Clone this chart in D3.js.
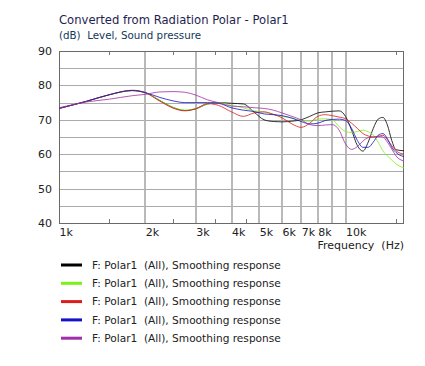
<!DOCTYPE html>
<html>
<head>
<meta charset="utf-8">
<script src="https://cdn.jsdelivr.net/npm/d3@7"></script>
<style>
  body { margin: 0; background: #fff; }
  svg text { font-family: "DejaVu Sans", Verdana, sans-serif; }
</style>
</head>
<body>
<div id="chart"></div>
<script>
// frequencies (Hz) and levels (dB)
var freqs = [1000, 1250, 1500, 1800, 2000, 2250, 2500, 2750, 3000, 3300, 3600, 4000, 4400, 4800, 5200, 5600, 6000, 6500, 7000, 7500, 8000, 8500, 9000, 9500, 10000, 10500, 11000, 11500, 12000, 12500, 13000, 13500, 14000, 14500, 15000, 16000];

var blackVals  = [73.3, 75.4, 77.3, 78.5, 77.9, 75.6, 73.6, 72.7, 73.2, 74.6, 75.0, 74.8, 74.6, 72.2, 70.0, 69.5, 69.4, 69.6, 70.0, 71.0, 72.0, 72.3, 72.5, 72.6, 71.0, 67.0, 62.5, 60.9, 63.5, 67.5, 70.2, 70.7, 68.5, 64.0, 61.3, 61.0];
var greenVals  = [73.3, 75.4, 77.3, 78.5, 77.9, 75.6, 73.6, 72.8, 73.3, 74.6, 75.0, 74.2, 73.5, 72.6, 72.3, 71.5, 71.0, 70.5, 69.8, 69.6, 70.2, 70.3, 70.0, 68.0, 66.6, 66.3, 66.6, 67.0, 66.5, 65.6, 63.5, 61.0, 59.5, 58.3, 57.2, 56.0];
var redVals    = [73.3, 75.4, 77.3, 78.6, 77.9, 75.4, 73.4, 72.6, 73.2, 74.7, 74.2, 72.3, 71.0, 72.0, 72.3, 71.6, 70.6, 68.8, 67.8, 69.0, 71.0, 71.5, 71.2, 70.8, 70.3, 69.0, 67.5, 66.0, 65.3, 65.0, 65.2, 65.5, 64.2, 62.5, 61.0, 60.0];
var blueVals   = [73.3, 75.4, 77.3, 78.5, 77.9, 76.5, 75.5, 75.0, 75.0, 75.0, 74.8, 73.5, 72.8, 72.4, 71.7, 71.5, 71.2, 70.5, 69.5, 68.8, 69.0, 69.8, 70.1, 70.2, 69.8, 67.5, 64.0, 62.0, 62.0, 63.5, 65.5, 66.0, 64.5, 62.0, 60.5, 59.3];
var purpleVals = [73.5, 75.2, 76.0, 77.0, 77.4, 78.1, 78.2, 78.0, 77.2, 75.8, 75.0, 74.0, 73.8, 73.5, 73.3, 72.8, 72.0, 71.0, 70.0, 68.6, 68.3, 68.5, 68.6, 67.0, 63.0, 61.4, 62.2, 63.8, 64.8, 65.0, 65.2, 65.0, 63.5, 61.5, 59.5, 58.0];

var seriesLabels = ["F: Polar1  (All), Smoothing response", "F: Polar1  (All), Smoothing response", "F: Polar1  (All), Smoothing response", "F: Polar1  (All), Smoothing response", "F: Polar1  (All), Smoothing response"];
var seriesColors = ["#000000", "#7cf214", "#dd1c1c", "#1212cc", "#a030a8"];

var yTicks = [40, 50, 60, 70, 80, 90];
var yGridVals = [45, 50, 55, 60, 65, 70, 75, 80, 85];
var xLabelVals = [1000, 2000, 3000, 4000, 5000, 6000, 7000, 8000, 10000];
var xLabels = ["1k", "2k", "3k", "4k", "5k", "6k", "7k", "8k", "10k"];
var xGridVals = [2000, 3000, 4000, 5000, 6000, 7000, 8000, 9000, 10000];
var xMinorVals = [1500, 2500, 3500, 4500, 15000];

var W = 425, H = 366;
var margin = {top: 51, right: 21, bottom: 143, left: 59};
var width = W - margin.left - margin.right,
    height = H - margin.top - margin.bottom;

var svg = d3.select("#chart").append("svg")
    .attr("width", W)
    .attr("height", H);

svg.append("text")
    .attr("x", 59).attr("y", 24)
    .attr("fill", "#1e1e50")
    .style("font-size", "11.6px")
    .text("Converted from Radiation Polar - Polar1");

svg.append("text")
    .attr("x", 59).attr("y", 38.5)
    .attr("fill", "#12385a")
    .style("font-size", "10.3px")
    .attr("xml:space", "preserve")
    .text("(dB)  Level, Sound pressure");

var g = svg.append("g")
    .attr("transform", "translate(" + margin.left + "," + margin.top + ")");

var x = d3.scaleLog().domain([1000, 16000]).range([0, width]);
var y = d3.scaleLinear().domain([40, 90]).range([height, 0]);

// grid
g.append("g")
  .selectAll("line")
  .data(yGridVals)
  .enter().append("line")
  .attr("x1", 0).attr("x2", width)
  .attr("y1", function(d) { return Math.round(y(d)) + 0.5; })
  .attr("y2", function(d) { return Math.round(y(d)) + 0.5; })
  .attr("stroke", "#ababab")
  .attr("stroke-width", 1);

g.append("g")
  .selectAll("line")
  .data(xGridVals)
  .enter().append("line")
  .attr("x1", function(d) { return Math.round(x(d)); })
  .attr("x2", function(d) { return Math.round(x(d)); })
  .attr("y1", 0).attr("y2", height)
  .attr("stroke", "#b2b2b2")
  .attr("stroke-width", 1.8);

// minor ticks top and bottom
g.append("g")
  .selectAll("line")
  .data(xMinorVals)
  .enter().append("line")
  .attr("x1", function(d) { return Math.round(x(d)) + 0.5; })
  .attr("x2", function(d) { return Math.round(x(d)) + 0.5; })
  .attr("y1", 0).attr("y2", 4)
  .attr("stroke", "#777");
g.append("g")
  .selectAll("line")
  .data(xMinorVals)
  .enter().append("line")
  .attr("x1", function(d) { return Math.round(x(d)) + 0.5; })
  .attr("x2", function(d) { return Math.round(x(d)) + 0.5; })
  .attr("y1", height - 4).attr("y2", height)
  .attr("stroke", "#777");

// frame
g.append("rect")
  .attr("x", 0.5).attr("y", 0.5)
  .attr("width", width - 1).attr("height", height)
  .attr("fill", "none")
  .attr("stroke", "#6a6a6a");

// curves
var allVals = [blackVals, greenVals, redVals, blueVals, purpleVals];
var line = d3.line()
  .x(function(d) { return x(d.f); })
  .y(function(d) { return y(d.v); })
  .curve(d3.curveMonotoneX);

allVals.forEach(function(vals, i) {
  var pts = freqs.map(function(f, j) { return {f: f, v: vals[j]}; });
  g.append("path")
    .datum(pts)
    .attr("d", line)
    .attr("fill", "none")
    .attr("stroke", seriesColors[i])
    .attr("stroke-opacity", 0.8)
    .attr("stroke-width", 1);
});

// axes
var yAxis = g.append("g")
  .call(d3.axisLeft(y).tickValues(yTicks).tickSize(0).tickPadding(7));
yAxis.select(".domain").remove();
yAxis.selectAll("text").style("font-size", "11px").attr("fill", "#222").attr("font-family", null);

var xAxis = g.append("g")
  .attr("transform", "translate(0," + height + ")")
  .call(d3.axisBottom(x).tickValues(xLabelVals).tickFormat(function(d, i) { return xLabels[i]; }).tickSize(0).tickPadding(5));
xAxis.select(".domain").remove();
xAxis.selectAll("text")
  .style("font-size", "11px")
  .attr("fill", "#222")
  .attr("font-family", null)
  .attr("text-anchor", "start");

svg.append("text")
  .attr("x", 404).attr("y", 248.5)
  .attr("text-anchor", "end")
  .attr("fill", "#222")
  .style("font-size", "11px")
  .attr("xml:space", "preserve")
  .text("Frequency  (Hz)");

// legend
var legend = svg.append("g").attr("transform", "translate(0,265)");
var rows = legend.selectAll("g")
  .data(seriesLabels)
  .enter().append("g")
  .attr("transform", function(d, i) { return "translate(0," + (i * 18.3) + ")"; });
rows.append("line")
  .attr("x1", 61).attr("x2", 82)
  .attr("y1", 0).attr("y2", 0)
  .attr("stroke", function(d, i) { return seriesColors[i]; })
  .attr("stroke-width", 3);
rows.append("text")
  .attr("x", 92).attr("y", 3.8)
  .attr("fill", "#222")
  .style("font-size", "10.6px")
  .attr("xml:space", "preserve")
  .text(function(d) { return d; });
</script>
</body>
</html>
